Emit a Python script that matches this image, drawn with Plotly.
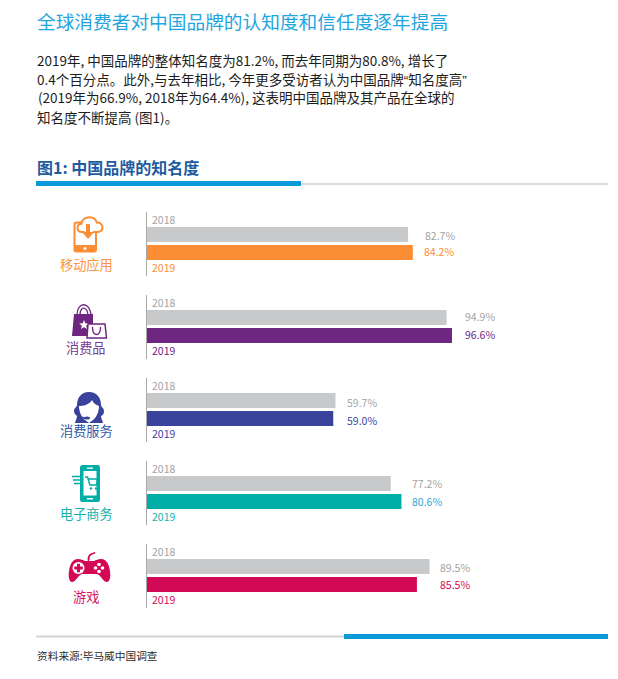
import base64
import plotly.graph_objects as go

# ---------- data ----------
CATEGORIES = ["移动应用", "消费品", "消费服务", "电子商务", "游戏"]
YEARS = ["2018", "2019"]
VALUES_2018 = [82.7, 94.9, 59.7, 77.2, 89.5]
VALUES_2019 = [84.2, 96.6, 59.0, 80.6, 85.5]
COLORS = ["#fb8d34", "#6d2780", "#3a439b", "#00aea8", "#d20a55"]
TITLE = "全球消费者对中国品牌的认知度和信任度逐年提高"
QL = '<span style="font-family:Liberation Sans">“</span>'
QR = '<span style="font-family:Liberation Sans">”</span>'
BODY = [
    "2019年, 中国品牌的整体知名度为81.2%, 而去年同期为80.8%, 增长了",
    f"0.4个百分点。此外,与去年相比, 今年更多受访者认为中国品牌{QL}知名度高{QR}",
    "(2019年为66.9%, 2018年为64.4%), 这表明中国品牌及其产品在全球的",
    "知名度不断提高 (图1)。",
]
HEADING = "图1: 中国品牌的知名度"
FOOTER = "资料来源:毕马威中国调查"

# ---------- layout constants ----------
W, H = 618, 679
FONT = "Noto Sans CJK SC"
GRAY_BAR = "#c8c9ca"
GRAY_TXT = "#a3a3a3"
X0_PX = 147
PX_PER_UNIT = 3.157
PANEL_TOP = [212, 295, 378, 461, 544]
PANEL_H = 64
CAT_LABEL_Y = [265, 348, 430, 513, 596]
LABEL_LEFT_2018 = [425, 464, 347, 412, 440]
LABEL_LEFT_2019 = [423, 464, 347, 412, 440]
LABEL_DY_2018 = [-0.5, 1, -2, 0, -1]
LABEL_DY_2019 = [1, 1, -2, 0, 0]
BODY_X = [34.5, 34.5, 36, 34.5]
BODY_Y = [59.5, 78.5, 97.5, 116.5]
LABEL_2019_COLOR = ["#fb8d34", "#6d2780", "#3a439b", "#2aa9d8", "#d20a55"]
YEAR_2019_COLOR = ["#fb8d34", "#6d2780", "#3a439b", "#12b5ae", "#d20a55"]
CAT_TXT_COLOR = ["#f99644", "#7b3a92", "#2f5aa8", "#14b0aa", "#d9175f"]
ICON_TOP = [210, 295, 380, 460, 545]


def px(x):
    return x / W


def py(y):
    return 1 - y / H


def note(x, y, text, size, color, anchor="left", **kw):
    return dict(xref="paper", yref="paper", x=px(x), y=py(y), text=text, showarrow=False,
                xanchor=anchor, yanchor="middle", align=anchor,
                font=dict(family=FONT, size=size, color=color), **kw)


ICONS = [
    # phone + cloud
    """<rect x="14.5" y="12.5" width="21.5" height="29" rx="2" fill="#fff" stroke="#fb8d34" stroke-width="2"/>
    <path d="M14 35h22v5a2 2 0 0 1-2 2H16a2 2 0 0 1-2-2z" fill="#fb8d34"/><circle cx="25" cy="38.5" r="1.4" fill="#fff"/>
    <path d="M24 22h-2c-3 0-4.5-2-4.5-4.3 0-2.5 1.8-4 4-4 .3-3.800 3.800-6.500 8-6.500 3.800 0 6.500 2.400 7.300 5.300 3-.2 5.700 1.700 5.700 4.800 0 2.800-2 4.700-5 4.700h-4" fill="#fff" stroke="#fb8d34" stroke-width="2" stroke-linecap="round"/>
    <path d="M26 14h4v8h4l-6 7-6-7h4z" fill="#fb8d34"/>""",
    # shopping bags
    """<path d="M17 20c0-14 14-14 14 2M20 20c0-10 8-9 8 2" fill="none" stroke="#6d2780" stroke-width="1.300"/>
    <path d="M14 19h19v22H12z" fill="#6d2780"/>
    <path d="M24 25l1.300 3.300 3.500.2-2.700 2.200 1 3.400-3.100-1.900-3 1.900.9-3.400-2.700-2.200 3.500-.2z" fill="#fff"/>
    <path d="M28 29h17l1.500 14H27z" fill="#fff" stroke="#6d2780" stroke-width="1.500"/>
    <path d="M32.500 32c0 10 8 10 8 0" fill="none" stroke="#6d2780" stroke-width="1.300"/>""",
    # headset agent
    """<path d="M29 12c-8 0-12 6-12 13 0 2-3 3-3 6 0 3 2 4 3 5 0 3-2 5-2 7h28c0-2-2-4-2-7 2-1 3-2 3-5s-3-4-3-6c0-7-4-13-12-13z" fill="#3a439b"/>
    <path d="M19 26c4 0 10-1 13-6 1 3 4 5 7 6 0 6-3 12-6 14l-4 3-4-3c-3-2-6-8-6-14z" fill="#fff"/>
    <path d="M17 30c1 5 4 8 8 8" fill="none" stroke="#3a439b" stroke-width="1.300"/><ellipse cx="27" cy="38" rx="3" ry="1.500" fill="#3a439b"/>""",
    # phone + cart
    """<rect x="20" y="5" width="20" height="37" rx="2.500" fill="#00aea8"/><rect x="23.500" y="11" width="13" height="24.500" fill="#fff"/>
    <rect x="27" y="7.500" width="6" height="1.300" fill="#fff"/><rect x="27" y="38" width="6" height="1.500" fill="#fff"/>
    <path d="M12 16.500h11M13 20h10M14 23.500h9" stroke="#00aea8" stroke-width="1.500"/>
    <path d="M25 17h2.500l2.500 8h6.500l1-6H28" fill="none" stroke="#00aea8" stroke-width="1.500"/>
    <circle cx="31" cy="28.500" r="1.200" fill="#00aea8"/><circle cx="36" cy="28.500" r="1.200" fill="#00aea8"/>""",
    # game pad
    """<path d="M28.500 15c0-5 2-6 6-7" fill="none" stroke="#d20a55" stroke-width="1.800" stroke-linecap="round"/>
    <path d="M18 14c3 0 5 1 7 2h9c2-1 4-2 7-2 6 0 8 6 9 12 .8 5 0 11-3 11-4 0-6-7-10-8H22c-4 1-6 8-10 8-3 0-3.800-6-3-11 1-6 3-12 9-12z" fill="#d20a55"/>
    <circle cx="18.500" cy="23" r="6" fill="#fff"/><path d="M17 18.700h3v2.800h2.800v3H20v2.800h-3v-2.800h-2.800v-3H17z" fill="#d20a55"/>
    <circle cx="39" cy="19.500" r="1.800" fill="#fff"/><circle cx="39" cy="26.500" r="1.800" fill="#fff"/><circle cx="35.500" cy="23" r="1.800" fill="#fff"/><circle cx="42.500" cy="23" r="1.800" fill="#fff"/>""",
]


def svg_uri(inner):
    svg = f'<svg xmlns="http://www.w3.org/2000/svg" width="60" height="60" viewBox="0 0 60 60">{inner}</svg>'
    return "data:image/svg+xml;base64," + base64.b64encode(svg.encode()).decode()


fig = go.Figure()
annotations = []

x_range = [0, (W - X0_PX) / PX_PER_UNIT]
axes = dict(
    xaxis=dict(domain=[px(X0_PX), 1], range=x_range, visible=False, fixedrange=True),
)

for i, cat in enumerate(CATEGORIES):
    ax = "" if i == 0 else str(i + 1)
    fig.add_trace(go.Bar(
        x=[VALUES_2018[i], VALUES_2019[i]], y=YEARS, orientation="h",
        xaxis="x", yaxis="y" + ax, width=15 / 18,
        marker=dict(color=[GRAY_BAR, COLORS[i]], line_width=0),
        hoverinfo="skip", showlegend=False, name=cat,
    ))
    top = PANEL_TOP[i]
    axes["yaxis" + ax] = dict(
        domain=[py(top + PANEL_H), py(top)], anchor="x", type="category",
        categoryorder="array", categoryarray=YEARS,
        range=[(PANEL_H - 22.5) / 18, -22.5 / 18],
        showline=True, linecolor="#a9a9a9", linewidth=1, showticklabels=False,
        ticks="", showgrid=False, zeroline=False, fixedrange=True,
    )
    yref = "y" + ax
    for j, (year, val, left, col, yshift, ycol, dy) in enumerate([
        (YEARS[0], VALUES_2018[i], LABEL_LEFT_2018[i], GRAY_TXT, 15, GRAY_TXT, LABEL_DY_2018[i]),
        (YEARS[1], VALUES_2019[i], LABEL_LEFT_2019[i], LABEL_2019_COLOR[i], -15, YEAR_2019_COLOR[i], LABEL_DY_2019[i]),
    ]):
        annotations.append(dict(
            xref="x", yref=yref, x=0, y=j, text=year, showarrow=False, xanchor="left", yanchor="middle",
            xshift=3, yshift=yshift, font=dict(family=FONT, size=10.5, color=ycol)))
        annotations.append(dict(
            xref="x", yref=yref, x=val, y=j, text=f"{val:.1f}%", showarrow=False, xanchor="left",
            yanchor="middle", xshift=left - (X0_PX + val * PX_PER_UNIT) - 1.5, yshift=dy,
            font=dict(family=FONT, size=10.5, color=col)))
    annotations.append(note(86, CAT_LABEL_Y[i], cat, 13.2, CAT_TXT_COLOR[i], anchor="center"))

annotations.append(note(34.5, 20.5, TITLE, 18.7, "#22a5df"))
for line, x, y in zip(BODY, BODY_X, BODY_Y):
    annotations.append(note(x, y, line, 13.5, "#1d1d1b"))
annotations.append(note(34.5, 167, f"<b>{HEADING}</b>", 16, "#1f5c9f"))
annotations.append(note(34.5, 655, FOOTER, 10.7, "#2b2b2b"))

images = [dict(source=svg_uri(ic), xref="paper", yref="paper", x=px(60), y=py(t), sizex=60 / W, sizey=60 / H,
               sizing="stretch", xanchor="left", yanchor="top", layer="above")
          for ic, t in zip(ICONS, ICON_TOP)]


def rect(x0, y0, x1, y1, color):
    return dict(type="rect", xref="paper", yref="paper", x0=px(x0), x1=px(x1), y0=py(y0), y1=py(y1),
                fillcolor=color, line_width=0)


shapes = [
    rect(36, 183.5, 608, 184.5, "#b9b9b9"),
    rect(36, 181, 301, 186, "#0a9ad9"),
    rect(36, 635.5, 344, 637.5, "#d4d4d4"),
    rect(344, 634, 608, 639, "#0a9ad9"),
]

fig.update_layout(
    width=W, height=H, margin=dict(l=0, r=0, t=0, b=0), paper_bgcolor="#fff", plot_bgcolor="#fff",
    barmode="overlay", annotations=annotations, shapes=shapes, images=images, **axes,
)
fig.write_html("out.html", config=dict(displayModeBar=False), post_script="document.body.style.margin='0';document.body.style.overflow='hidden';")
